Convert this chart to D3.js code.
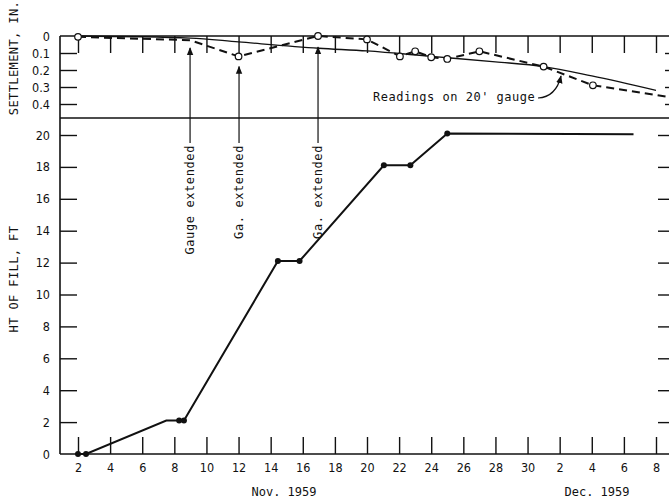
<!DOCTYPE html>
<html>
<head>
<meta charset="utf-8">
<script src="https://cdn.jsdelivr.net/npm/d3@7.9.0/dist/d3.min.js"></script>
<style>
  body { margin: 0; background: #fff; }
  svg { display: block; }
  .tick-label { font-family: "DejaVu Sans Condensed", "DejaVu Sans", sans-serif; font-size: 12.5px; fill: #111; }
  .mono { font-family: "DejaVu Sans Mono", monospace; font-size: 12px; fill: #111; }
</style>
</head>
<body>
<svg id="chart" width="669" height="500"></svg>
<script>
// days counted from Nov 1 1959 (Dec 2 = 32)
const xTickDays = [2, 4, 6, 8, 10, 12, 14, 16, 18, 20, 22, 24, 26, 28, 30, 32, 34, 36, 38];
const xTickLabels = ["2", "4", "6", "8", "10", "12", "14", "16", "18", "20", "22", "24", "26", "28", "30", "2", "4", "6", "8"];

const settleTicks = [0, 0.1, 0.2, 0.3, 0.4];
const settleTickLabels = ["0", "0.1", "0.2", "0.3", "0.4"];
const fillTicks = [0, 2, 4, 6, 8, 10, 12, 14, 16, 18, 20];

// height of fill, ft
const fillDays = [2, 2.5, 7.5, 8.3, 8.6, 14.45, 15.8, 21.05, 22.7, 25.0, 36.6];
const fillHeights = [0, 0, 2.1, 2.1, 2.1, 12.1, 12.1, 18.1, 18.1, 20.1, 20.05];
const fillDots = [true, true, false, true, true, true, true, true, true, true, false];

// readings on 20' gauge, in.
const readDays = [2, 9, 12, 16.95, 20, 22.05, 23, 24, 25, 27, 31, 34.07, 38.9];
const readValues = [0.005, 0.025, 0.12, 0.0, 0.02, 0.12, 0.09, 0.125, 0.135, 0.09, 0.18, 0.29, 0.36];
const readCircles = [true, false, true, true, true, true, true, true, true, true, true, true, false];

// smoothed settlement trend
const trendDays = [2, 9, 12, 17, 20, 24, 28, 31, 34, 38];
const trendValues = [0.0, 0.012, 0.035, 0.072, 0.088, 0.12, 0.152, 0.18, 0.235, 0.32];

// gauge extension notes
const gaugeDays = [8.98, 12.03, 16.95];
const gaugeTips = [0.07, 0.18, 0.065];
const gaugeLabels = ["Gauge  extended", "Ga. extended", "Ga. extended"];

const svg = d3.select("#chart");
const frameL = 60, frameR = 675, frameT = 36, frameSplit = 118, frameB = 454;

const x = d3.scaleLinear().domain([2, 38]).range([78, 656]);
const ySet = d3.scaleLinear().domain([0, 0.4]).range([36, 104]);
const yFill = d3.scaleLinear().domain([0, 20]).range([454, 135]);

const ink = "#111";

svg.append("defs").append("marker")
  .attr("id", "arrow")
  .attr("viewBox", "0 0 10 10")
  .attr("refX", 9).attr("refY", 5)
  .attr("markerWidth", 8).attr("markerHeight", 8)
  .attr("markerUnits", "userSpaceOnUse")
  .attr("orient", "auto")
  .append("path").attr("d", "M0,1 L10,5 L0,9 Z").attr("fill", ink);

// frame lines
const frame = svg.append("g").attr("stroke", ink).attr("stroke-width", 1.6);
frame.append("line").attr("x1", frameL).attr("x2", frameR).attr("y1", frameT).attr("y2", frameT);
frame.append("line").attr("x1", frameL).attr("x2", frameR).attr("y1", frameSplit).attr("y2", frameSplit);
frame.append("line").attr("x1", frameL).attr("x2", frameR).attr("y1", frameB).attr("y2", frameB);
frame.append("line").attr("x1", frameL).attr("x2", frameL).attr("y1", frameT).attr("y2", frameB);

// bottom axis (ticks inward)
const xAxis = d3.axisBottom(x).tickValues(xTickDays).tickSize(-17).tickPadding(0)
  .tickFormat((d, i) => xTickLabels[i]);
const gx = svg.append("g").attr("transform", `translate(0,${frameB})`).call(xAxis);
gx.select(".domain").remove();
gx.selectAll(".tick line").attr("stroke", ink).attr("stroke-width", 1.4);
gx.selectAll(".tick text").attr("class", "tick-label").attr("y", 18).attr("dy", 0)
  .attr("font-size", null).attr("font-family", null);
gx.attr("font-size", null).attr("font-family", null);

// top hanging ticks
const xTop = d3.axisTop(x).tickValues(xTickDays).tickSize(-17).tickFormat("");
const gxt = svg.append("g").attr("transform", `translate(0,${frameT})`).call(xTop);
gxt.select(".domain").remove();
gxt.selectAll(".tick line").attr("stroke", ink).attr("stroke-width", 1.4);

// settlement axis
const ySetAxis = d3.axisLeft(ySet).tickValues(settleTicks).tickSize(-17).tickPadding(10)
  .tickFormat((d, i) => settleTickLabels[i]);
const gys = svg.append("g").attr("transform", `translate(${frameL},0)`).call(ySetAxis);
gys.attr("font-size", null).attr("font-family", null);
gys.select(".domain").remove();
gys.selectAll(".tick line").attr("stroke", ink).attr("stroke-width", 1.4)
  .filter(d => d === 0).remove();
gys.selectAll(".tick text").attr("class", "tick-label");

// fill axis
const yFillAxis = d3.axisLeft(yFill).tickValues(fillTicks).tickSize(-17).tickPadding(10);
const gyf = svg.append("g").attr("transform", `translate(${frameL},0)`).call(yFillAxis);
gyf.attr("font-size", null).attr("font-family", null);
gyf.select(".domain").remove();
gyf.selectAll(".tick line").attr("stroke", ink).attr("stroke-width", 1.4)
  .filter(d => d === 0).remove();
gyf.selectAll(".tick text").attr("class", "tick-label");

// right side ticks
const gyr1 = svg.append("g").attr("transform", `translate(${frameR},0)`)
  .call(d3.axisRight(ySet).tickValues(settleTicks.slice(1)).tickSize(-10).tickFormat(""));
gyr1.select(".domain").remove();
gyr1.selectAll(".tick line").attr("stroke", ink).attr("stroke-width", 1.4);
const gyr2 = svg.append("g").attr("transform", `translate(${frameR},0)`)
  .call(d3.axisRight(yFill).tickValues(fillTicks.slice(1)).tickSize(-17).tickFormat(""));
gyr2.select(".domain").remove();
gyr2.selectAll(".tick line").attr("stroke", ink).attr("stroke-width", 1.4);

// axis titles
svg.append("text").attr("class", "mono")
  .attr("transform", "translate(18,58) rotate(-90)")
  .attr("text-anchor", "middle").attr("letter-spacing", 0.4)
  .text("SETTLEMENT, IN.");
svg.append("text").attr("class", "mono")
  .attr("transform", "translate(18,279) rotate(-90)")
  .attr("text-anchor", "middle").attr("letter-spacing", 0.4)
  .text("HT OF FILL, FT");

svg.append("text").attr("class", "mono").attr("x", 284).attr("y", 496)
  .attr("text-anchor", "middle").text("Nov. 1959");
svg.append("text").attr("class", "mono").attr("x", 597).attr("y", 496)
  .attr("text-anchor", "middle").text("Dec. 1959");

// trend curve
const trend = trendDays.map((d, i) => [d, trendValues[i]]);
svg.append("path")
  .attr("d", d3.line().x(d => x(d[0])).y(d => ySet(d[1])).curve(d3.curveMonotoneX)(trend))
  .attr("fill", "none").attr("stroke", ink).attr("stroke-width", 1.3);

// readings, dashed
const readings = readDays.map((d, i) => ({ day: d, v: readValues[i], c: readCircles[i] }));
svg.append("path")
  .attr("d", d3.line().x(d => x(d.day)).y(d => ySet(d.v))(readings))
  .attr("fill", "none").attr("stroke", ink).attr("stroke-width", 2)
  .attr("stroke-dasharray", "8,5");
svg.append("g").selectAll("circle")
  .data(readings.filter(d => d.c))
  .join("circle")
  .attr("cx", d => x(d.day)).attr("cy", d => ySet(d.v)).attr("r", 3.3)
  .attr("fill", "#fff").attr("stroke", ink).attr("stroke-width", 1.2);

// gauge extension notes
gaugeDays.forEach((d, i) => {
  svg.append("line")
    .attr("x1", x(d)).attr("x2", x(d))
    .attr("y1", 143).attr("y2", ySet(gaugeTips[i]))
    .attr("stroke", ink).attr("stroke-width", 1.2)
    .attr("marker-end", "url(#arrow)");
  svg.append("text").attr("class", "mono")
    .attr("transform", `translate(${x(d)},145) rotate(-90)`)
    .attr("dy", "0.35em").attr("text-anchor", "end").attr("letter-spacing", 0.6)
    .text(gaugeLabels[i]);
});

// reading label with leader
svg.append("text").attr("class", "mono").attr("x", 373).attr("y", 101)
  .attr("letter-spacing", 0.5).attr("font-size", 12.5).text("Readings on 20' gauge");
svg.append("path")
  .attr("d", "M538,98 Q556,97 561,76")
  .attr("fill", "none").attr("stroke", ink).attr("stroke-width", 1.2)
  .attr("marker-end", "url(#arrow)");

// height of fill
const fill = fillDays.map((d, i) => ({ day: d, h: fillHeights[i], dot: fillDots[i] }));
svg.append("path")
  .attr("d", d3.line().x(d => x(d.day)).y(d => yFill(d.h))(fill))
  .attr("fill", "none").attr("stroke", ink).attr("stroke-width", 2);
svg.append("g").selectAll("circle")
  .data(fill.filter(d => d.dot))
  .join("circle")
  .attr("cx", d => x(d.day)).attr("cy", d => yFill(d.h)).attr("r", 3)
  .attr("fill", ink);
</script>
</body>
</html>
